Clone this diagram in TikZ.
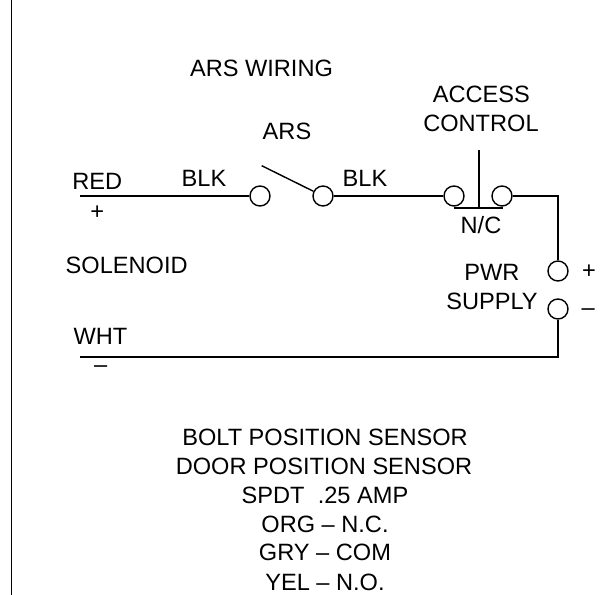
\documentclass[tikz,border=0pt]{standalone}
\usepackage{fontspec}
\setmainfont{Liberation Sans}
\begin{document}
\begin{tikzpicture}[x=1pt,y=-1pt,
 lbl/.style={inner sep=0pt,font=\fontsize{23.6}{26}\selectfont,text=black},
 term/.style={circle,draw=black,line width=1.4pt,minimum size=20pt,inner sep=0pt,fill=white},
 wire/.style={draw=black,line width=1.4pt}]
\useasboundingbox (0,0) rectangle (606,595);
\coordinate (bt) at (11.7,0); \coordinate (bb) at (11.7,595);
\draw[wire] (bt) -- (bb);
\coordinate (r) at (80,196);
\coordinate (w) at (80,357);
\coordinate (cr) at (558,196);
\coordinate (wr) at (558,357);
\coordinate (sw) at (261.7,165.7);
\coordinate (pt) at (479,150); \coordinate (pb) at (479,208);
\coordinate (bl) at (454,208); \coordinate (br) at (502.5,208);
\node[term] (a) at (260,196) {};
\node[term] (b) at (323,196) {};
\node[term] (c) at (454,196) {};
\node[term] (d) at (502,196) {};
\node[term] (e) at (558,271) {};
\node[term] (f) at (558,309) {};
\draw[wire] (r) -- (a);
\draw[wire] (sw) -- (b);
\draw[wire] (b) -- (c);
\draw[wire] (d) -- (cr) -- (e);
\draw[wire] (f) -- (wr) -- (w);
\draw[wire] (pt) -- (pb);
\draw[wire] (bl) -- (br);
\node[lbl] (t1) at (261.5,68.3) {ARS WIRING};
\node[lbl] (t2) at (481.3,94.7) {ACCESS};
\node[lbl] (t3) at (481,123.8) {CONTROL};
\node[lbl] (t4) at (287,131.7) {ARS};
\node[lbl] (t5) at (97.3,181) {RED};
\node[lbl] (t6) at (204,178.7) {BLK};
\node[lbl] (t7) at (365,178.7) {BLK};
\node[lbl] (t8) at (97.3,212.7) {+};
\node[lbl] (t9) at (481,224.7) {N/C};
\node[lbl] (t10) at (126.7,265.8) {SOLENOID};
\node[lbl] (t11) at (492,272.7) {PWR};
\node[lbl] (t12) at (492,301.7) {SUPPLY};
\node[lbl] (t13) at (589,271.7) {+};
\node[lbl] (t14) at (588.3,312.5) {–};
\node[lbl] (t15) at (100.5,336.3) {WHT};
\node[lbl] (t16) at (100.8,369.5) {–};
\node[lbl] (t17) at (325,437) {BOLT POSITION SENSOR};
\node[lbl] (t18) at (324,466) {DOOR POSITION SENSOR};
\node[lbl] (t19) at (325,495.5) {SPDT\ \ .25 AMP};
\node[lbl] (t20) at (325,524.7) {ORG – N.C.};
\node[lbl] (t21) at (325,552.5) {GRY – COM};
\node[lbl] (t22) at (325,582.5) {YEL – N.O.};
\end{tikzpicture}
\end{document}
